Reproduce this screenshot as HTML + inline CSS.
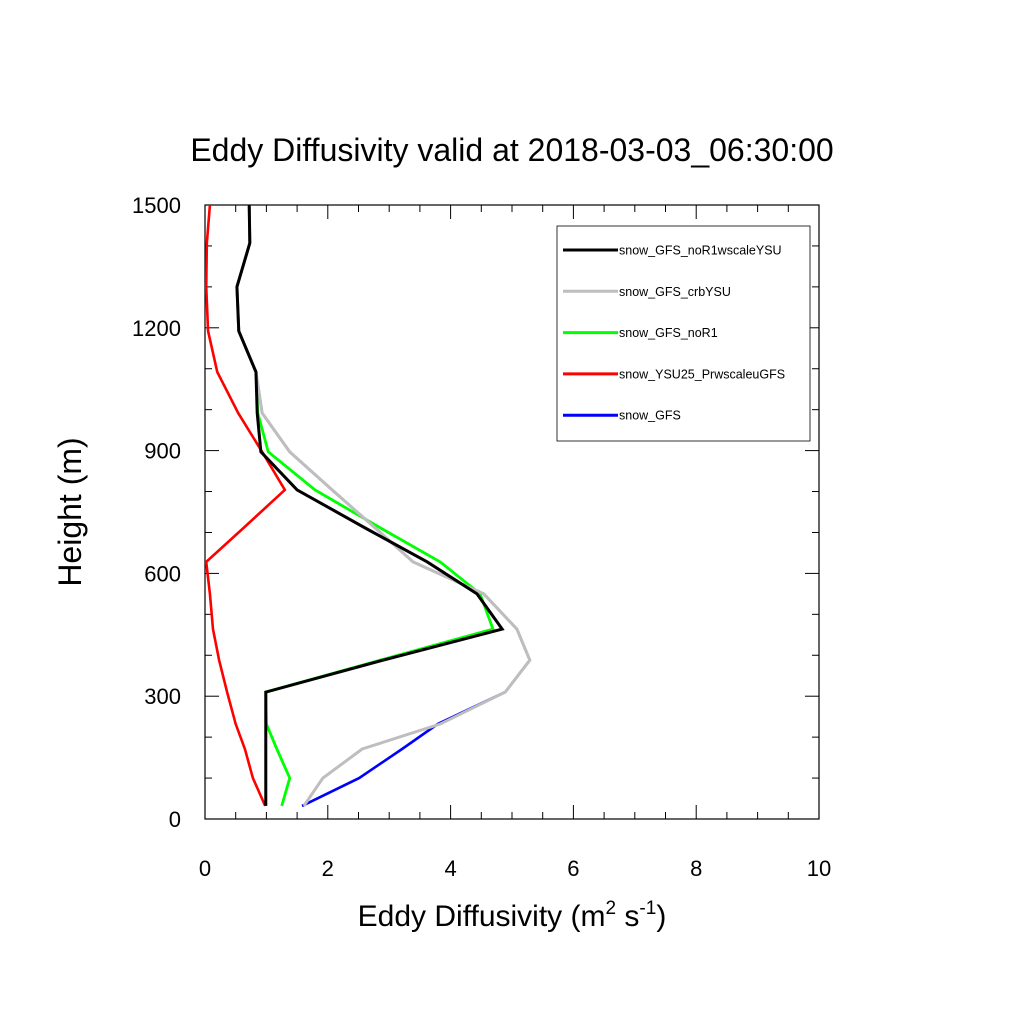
<!DOCTYPE html>
<html><head><meta charset="utf-8"><style>
body{margin:0;background:#fff}
svg text{font-family:"Liberation Sans",sans-serif}
</style></head><body>
<svg id="c" width="1024" height="1024" xmlns="http://www.w3.org/2000/svg">
<rect width="1024" height="1024" fill="#fff"/>
<text x="512" y="161" font-size="32" text-anchor="middle">Eddy Diffusivity valid at 2018-03-03_06:30:00</text>
<g id="plot"></g>
<text x="512" y="926" font-size="30" text-anchor="middle">Eddy Diffusivity (m<tspan dy="-12" font-size="19">2</tspan><tspan dy="12"> s</tspan><tspan dy="-12" font-size="19">-1</tspan><tspan dy="12">)</tspan></text>
<text transform="translate(81,512) rotate(-90)" font-size="32" text-anchor="middle">Height (m)</text>
</svg>
<script>
const heights=[32,100,171,232,310,388,464,550,628,710,804,897,992,1092,1192,1300,1407,1500];
const blackVals=[0.99,0.99,0.99,0.99,0.99,2.9,4.84,4.43,3.62,2.62,1.50,0.91,0.85,0.83,0.55,0.52,0.73,0.72];
const grayVals=[1.61,1.92,2.56,3.83,4.89,5.29,5.08,4.54,3.39,2.78,2.07,1.38,0.93,0.83,0.55,0.52,0.73,0.72];
const greenVals=[1.25,1.38,1.17,1.0,0.99,2.85,4.69,4.48,3.83,2.87,1.79,1.03,0.86,0.83,0.55,0.52,0.73,0.72];
const redVals=[0.98,0.78,0.65,0.5,0.36,0.23,0.13,0.08,0.02,0.62,1.30,0.93,0.54,0.2,0.05,0.02,0.03,0.08];
const blueVals=[1.58,2.51,3.21,3.79,4.89,5.29,5.08,4.54,3.39,2.78,2.07,1.38,0.93,0.83,0.55,0.52,0.73,0.72];
const xTicks=[0,2,4,6,8,10];
const yTicks=[0,300,600,900,1200,1500];
const seriesNames=["snow_GFS_noR1wscaleYSU","snow_GFS_crbYSU","snow_GFS_noR1","snow_YSU25_PrwscaleuGFS","snow_GFS"];
const NS="http://www.w3.org/2000/svg";
const X0=205,X1=819,Y0=819,Y1=205;
const xs=v=>X0+(v-0)/10*(X1-X0);
const ys=h=>Y0-(h/1500)*(Y0-Y1);
const g=document.getElementById('plot');
function mk(t,a){const e=document.createElementNS(NS,t);for(const k in a)e.setAttribute(k,a[k]);g.appendChild(e);return e;}
// frame
const fr=mk('rect',{x:X0,y:Y1,width:X1-X0,height:Y0-Y1,fill:'none',stroke:'#000','stroke-width':1.2});


// x ticks
for(let v=0;v<=10.001;v+=0.5){const maj=Math.abs(v/2-Math.round(v/2))<1e-6;const L=maj?14:7;
const t1=mk('line',{x1:xs(v),x2:xs(v),y1:Y0,y2:Y0-L,stroke:'#000','stroke-width':1});


const t2=mk('line',{x1:xs(v),x2:xs(v),y1:Y1,y2:Y1+L,stroke:'#000','stroke-width':1});

}
xTicks.forEach(v=>{const t=mk('text',{x:xs(v),y:876,'font-size':22,'text-anchor':'middle'});t.textContent=v;

});
for(let h=0;h<=1500;h+=100){const maj=h%300===0;const L=maj?14:7;
const t1=mk('line',{x1:X0,x2:X0+L,y1:ys(h),y2:ys(h),stroke:'#000','stroke-width':1});


const t2=mk('line',{x1:X1,x2:X1-L,y1:ys(h),y2:ys(h),stroke:'#000','stroke-width':1});

}
yTicks.forEach(h=>{const t=mk('text',{x:181,y:ys(h)+8,'font-size':22,'text-anchor':'end'});t.textContent=h;

});
function line(vals,color,w,name){const p=mk('polyline',{points:vals.map((v,i)=>xs(v)+','+ys(heights[i])).join(' '),fill:'none',stroke:color,'stroke-width':w,'stroke-linejoin':'miter'});

}
line(blueVals,'#0000ff',2.6,'series-snow-gfs');
line(redVals,'#ff0000',2.6,'series-snow-ysu25-prwscaleugfs');
line(greenVals,'#00ff00',2.8,'series-snow-gfs-nor1');
line(grayVals,'#bebebe',3,'series-snow-gfs-crbysu');
line(blackVals,'#000000',3,'series-snow-gfs-nor1wscaleysu');
// legend
const lb=mk('rect',{x:557,y:226,width:253,height:215,fill:'#fff',stroke:'#000','stroke-width':0.8});


const cols=['#000000','#bebebe','#00ff00','#ff0000','#0000ff'];
seriesNames.forEach((n,i)=>{const y=250+i*41.3;
const l=mk('line',{x1:563,x2:618,y1:y,y2:y,stroke:cols[i],'stroke-width':3});


const t=mk('text',{x:619,y:y+4.5,'font-size':12.5});t.textContent=n;

});
</script>
</body></html>
